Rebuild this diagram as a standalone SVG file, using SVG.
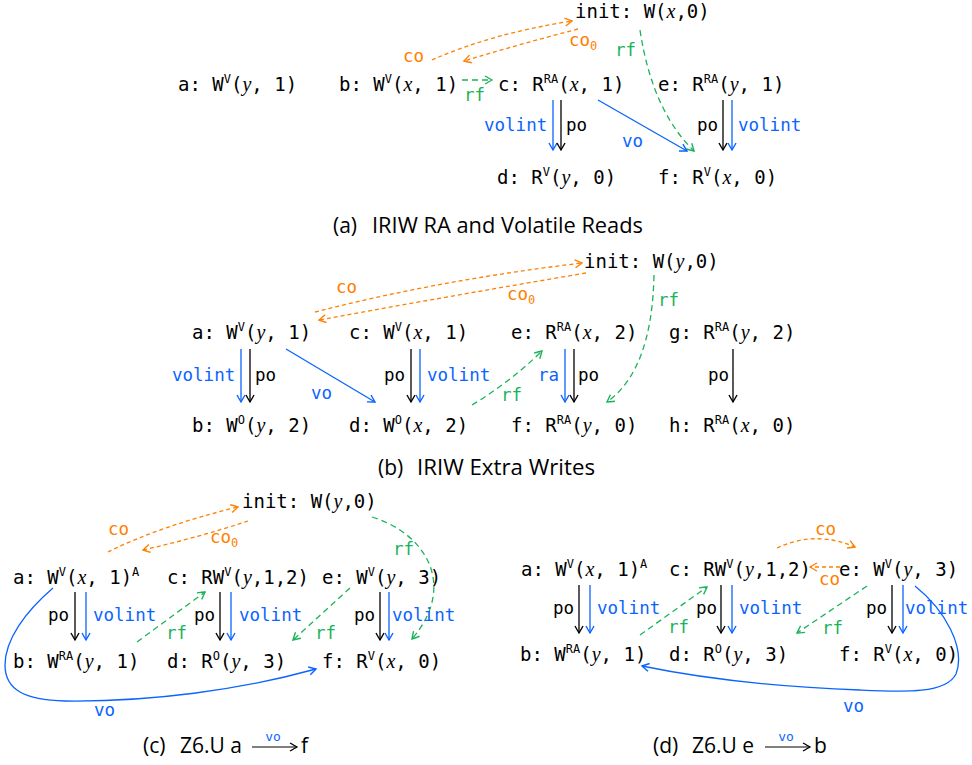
<svg xmlns="http://www.w3.org/2000/svg" width="972" height="765" viewBox="0 0 972 765">
<defs>
<style>
.n{font-family:"DejaVu Sans Mono",monospace;font-size:19px;fill:#000}
.m{font-family:"Liberation Serif",serif;font-style:italic;font-size:20px}
.sp{font-size:12px}
.l{font-family:"DejaVu Sans Mono",monospace;font-size:17.5px}
.cap{font-family:"Open Sans",sans-serif;font-size:21px;fill:#000}
.lb{fill:#0a64ff}.lk{fill:#000}.lg{fill:#1bb35a}.lo{fill:#ff8000}
.e{fill:none;stroke-width:1.3}
.k{stroke:#000;marker-end:url(#ak)}
.b{stroke:#0a64ff;marker-end:url(#ab)}
.g{stroke:#1bb35a;stroke-dasharray:6 4;marker-end:url(#ag)}
.o{stroke:#ff8000;stroke-dasharray:4 3;marker-end:url(#ao)}
</style>
<marker id="ak" markerUnits="userSpaceOnUse" markerWidth="14" markerHeight="14" refX="0" refY="0" viewBox="-10 -7 14 14" orient="auto"><path d="M-7,-4 Q-2,-1.2 0,0 Q-2,1.2 -7,4" fill="none" stroke="#000" stroke-width="1.4"/></marker>
<marker id="ab" markerUnits="userSpaceOnUse" markerWidth="14" markerHeight="14" refX="0" refY="0" viewBox="-10 -7 14 14" orient="auto"><path d="M-7,-4 Q-2,-1.2 0,0 Q-2,1.2 -7,4" fill="none" stroke="#0a64ff" stroke-width="1.4"/></marker>
<marker id="ag" markerUnits="userSpaceOnUse" markerWidth="14" markerHeight="14" refX="0" refY="0" viewBox="-10 -7 14 14" orient="auto"><path d="M-7,-4 Q-2,-1.2 0,0 Q-2,1.2 -7,4" fill="none" stroke="#1bb35a" stroke-width="1.4"/></marker>
<marker id="ao" markerUnits="userSpaceOnUse" markerWidth="14" markerHeight="14" refX="0" refY="0" viewBox="-10 -7 14 14" orient="auto"><path d="M-7,-4 Q-2,-1.2 0,0 Q-2,1.2 -7,4" fill="none" stroke="#ff8000" stroke-width="1.4"/></marker>
</defs>
<rect width="972" height="765" fill="#fff"/>

<!-- Panel (a) -->
<g id="a-init"><text class="n" x="575" y="18">init: W(<tspan class="m">x</tspan>,0)</text></g>
<g id="a-a"><text class="n" x="178" y="91">a: W<tspan class="sp" dy="-8">V</tspan><tspan dy="8">(</tspan><tspan class="m">y</tspan>, 1)</text></g>
<g id="a-b"><text class="n" x="339" y="91">b: W<tspan class="sp" dy="-8">V</tspan><tspan dy="8">(</tspan><tspan class="m">x</tspan>, 1)</text></g>
<g id="a-c"><text class="n" x="498" y="91">c: R<tspan class="sp" dy="-8">RA</tspan><tspan dy="8">(</tspan><tspan class="m">x</tspan>, 1)</text></g>
<g id="a-e"><text class="n" x="658" y="91">e: R<tspan class="sp" dy="-8">RA</tspan><tspan dy="8">(</tspan><tspan class="m">y</tspan>, 1)</text></g>
<g id="a-d"><text class="n" x="497" y="184">d: R<tspan class="sp" dy="-8">V</tspan><tspan dy="8">(</tspan><tspan class="m">y</tspan>, 0)</text></g>
<g id="a-f"><text class="n" x="658" y="184">f: R<tspan class="sp" dy="-8">V</tspan><tspan dy="8">(</tspan><tspan class="m">x</tspan>, 0)</text></g>
<g id="a-edges">
<path class="e o" d="M432,60 Q490,34 572,21"/>
<path class="e o" d="M578,29 Q520,44 464,61"/>
<path class="e g" d="M462,80 L492,80"/>
<path class="e g" d="M640,30 Q652,110 694,151"/>
<path class="e b" d="M553,100 L553,150"/>
<path class="e k" d="M561,100 L561,150"/>
<path class="e b" d="M598,100 L687,151"/>
<path class="e k" d="M723,100 L723,150"/>
<path class="e b" d="M732,100 L732,150"/>
<text class="l lo" x="403" y="62">co</text>
<text class="l lo" x="569" y="46">co<tspan class="sp" dy="4">0</tspan></text>
<text class="l lg" x="464" y="101">rf</text>
<text class="l lg" x="615" y="56">rf</text>
<text class="l lb" x="484" y="131">volint</text>
<text class="l lk" x="566" y="131">po</text>
<text class="l lb" x="622" y="147">vo</text>
<text class="l lk" x="697" y="131">po</text>
<text class="l lb" x="738" y="131">volint</text>
</g>
<g id="a-caption">
<text class="cap" x="333" y="233">(a)</text>
<text class="cap" x="372" y="233" textLength="271" lengthAdjust="spacingAndGlyphs">IRIW RA and Volatile Reads</text>
</g>

<!-- Panel (b) -->
<g id="b-init"><text class="n" x="584" y="268">init: W(<tspan class="m">y</tspan>,0)</text></g>
<g id="b-a"><text class="n" x="192" y="339">a: W<tspan class="sp" dy="-8">V</tspan><tspan dy="8">(</tspan><tspan class="m">y</tspan>, 1)</text></g>
<g id="b-c"><text class="n" x="349" y="339">c: W<tspan class="sp" dy="-8">V</tspan><tspan dy="8">(</tspan><tspan class="m">x</tspan>, 1)</text></g>
<g id="b-e"><text class="n" x="511" y="339">e: R<tspan class="sp" dy="-8">RA</tspan><tspan dy="8">(</tspan><tspan class="m">x</tspan>, 2)</text></g>
<g id="b-g"><text class="n" x="669" y="339">g: R<tspan class="sp" dy="-8">RA</tspan><tspan dy="8">(</tspan><tspan class="m">y</tspan>, 2)</text></g>
<g id="b-b"><text class="n" x="192" y="432">b: W<tspan class="sp" dy="-8">O</tspan><tspan dy="8">(</tspan><tspan class="m">y</tspan>, 2)</text></g>
<g id="b-d"><text class="n" x="349" y="432">d: W<tspan class="sp" dy="-8">O</tspan><tspan dy="8">(</tspan><tspan class="m">x</tspan>, 2)</text></g>
<g id="b-f"><text class="n" x="511" y="432">f: R<tspan class="sp" dy="-8">RA</tspan><tspan dy="8">(</tspan><tspan class="m">y</tspan>, 0)</text></g>
<g id="b-h"><text class="n" x="669" y="432">h: R<tspan class="sp" dy="-8">RA</tspan><tspan dy="8">(</tspan><tspan class="m">x</tspan>, 0)</text></g>
<g id="b-edges">
<path class="e o" d="M315,312 Q440,280 582,263"/>
<path class="e o" d="M586,273 Q450,296 319,320"/>
<path class="e b" d="M241,349 L241,402"/>
<path class="e k" d="M250,349 L250,402"/>
<path class="e b" d="M286,349 L375,402"/>
<path class="e k" d="M411,349 L411,402"/>
<path class="e b" d="M420,349 L420,402"/>
<path class="e g" d="M472,405 Q510,382 542,351"/>
<path class="e b" d="M565,349 L565,402"/>
<path class="e k" d="M574,349 L574,402"/>
<path class="e g" d="M654,275 Q652,370 607,402"/>
<path class="e k" d="M733,349 L733,402"/>
<text class="l lo" x="336" y="293">co</text>
<text class="l lo" x="507" y="300">co<tspan class="sp" dy="4">0</tspan></text>
<text class="l lb" x="172" y="381">volint</text>
<text class="l lk" x="255" y="381">po</text>
<text class="l lb" x="311" y="399">vo</text>
<text class="l lk" x="384" y="381">po</text>
<text class="l lb" x="427" y="381">volint</text>
<text class="l lg" x="501" y="401">rf</text>
<text class="l lb" x="538" y="381">ra</text>
<text class="l lk" x="578" y="381">po</text>
<text class="l lg" x="658" y="306">rf</text>
<text class="l lk" x="708" y="381">po</text>
</g>
<g id="b-caption">
<text class="cap" x="378" y="475">(b)</text>
<text class="cap" x="417" y="475" textLength="178" lengthAdjust="spacingAndGlyphs">IRIW Extra Writes</text>
</g>

<!-- Panel (c) -->
<g id="c-init"><text class="n" x="242" y="508">init: W(<tspan class="m">y</tspan>,0)</text></g>
<g id="c-a"><text class="n" x="13" y="584">a: W<tspan class="sp" dy="-8">V</tspan><tspan dy="8">(</tspan><tspan class="m">x</tspan>, 1)<tspan class="sp" dy="-8">A</tspan></text></g>
<g id="c-c"><text class="n" x="167" y="584">c: RW<tspan class="sp" dy="-8">V</tspan><tspan dy="8">(</tspan><tspan class="m">y</tspan>,1,2)</text></g>
<g id="c-e"><text class="n" x="322" y="584">e: W<tspan class="sp" dy="-8">V</tspan><tspan dy="8">(</tspan><tspan class="m">y</tspan>, 3)</text></g>
<g id="c-b"><text class="n" x="13" y="668">b: W<tspan class="sp" dy="-8">RA</tspan><tspan dy="8">(</tspan><tspan class="m">y</tspan>, 1)</text></g>
<g id="c-d"><text class="n" x="167" y="668">d: R<tspan class="sp" dy="-8">O</tspan><tspan dy="8">(</tspan><tspan class="m">y</tspan>, 3)</text></g>
<g id="c-f"><text class="n" x="322" y="668">f: R<tspan class="sp" dy="-8">V</tspan><tspan dy="8">(</tspan><tspan class="m">x</tspan>, 0)</text></g>
<g id="c-edges">
<path class="e o" d="M108,552 Q160,526 238,507"/>
<path class="e o" d="M248,521 Q200,537 143,550"/>
<path class="e g" d="M372,517 C425,533 458,585 412,639"/>
<path class="e k" d="M75,592 L75,640"/>
<path class="e b" d="M86,592 L86,640"/>
<path class="e k" d="M220,592 L220,640"/>
<path class="e b" d="M231,592 L231,640"/>
<path class="e k" d="M380,592 L380,640"/>
<path class="e b" d="M389,592 L389,640"/>
<path class="e g" d="M137,642 L205,592"/>
<path class="e g" d="M350,588 L293,640"/>
<path class="e b" d="M53,588 C25,612 5,640 5,665 C5,690 25,700 65,701 C150,702 240,690 316,669"/>
<text class="l lo" x="108" y="535">co</text>
<text class="l lo" x="210" y="543">co<tspan class="sp" dy="4">0</tspan></text>
<text class="l lg" x="393" y="555">rf</text>
<text class="l lk" x="48" y="621">po</text>
<text class="l lb" x="93" y="621">volint</text>
<text class="l lk" x="194" y="621">po</text>
<text class="l lb" x="239" y="621">volint</text>
<text class="l lk" x="354" y="621">po</text>
<text class="l lb" x="392" y="621">volint</text>
<text class="l lg" x="166" y="639">rf</text>
<text class="l lg" x="315" y="639">rf</text>
<text class="l lb" x="94" y="716">vo</text>
</g>
<g id="c-caption">
<text class="cap" x="143" y="753">(c)</text>
<text class="cap" x="180" y="753" xml:space="preserve">Z6.U a</text>
<path d="M252,747 L297,747" fill="none" stroke="#000" stroke-width="1" marker-end="url(#ak)"/>
<text class="l lb" x="273" y="741" text-anchor="middle" style="font-size:13px">vo</text>
<text class="cap" x="301" y="753">f</text>
</g>

<!-- Panel (d) -->
<g id="d-a"><text class="n" x="521" y="576">a: W<tspan class="sp" dy="-8">V</tspan><tspan dy="8">(</tspan><tspan class="m">x</tspan>, 1)<tspan class="sp" dy="-8">A</tspan></text></g>
<g id="d-c"><text class="n" x="669" y="576">c: RW<tspan class="sp" dy="-8">V</tspan><tspan dy="8">(</tspan><tspan class="m">y</tspan>,1,2)</text></g>
<g id="d-e"><text class="n" x="839" y="576">e: W<tspan class="sp" dy="-8">V</tspan><tspan dy="8">(</tspan><tspan class="m">y</tspan>, 3)</text></g>
<g id="d-b"><text class="n" x="520" y="661">b: W<tspan class="sp" dy="-8">RA</tspan><tspan dy="8">(</tspan><tspan class="m">y</tspan>, 1)</text></g>
<g id="d-d"><text class="n" x="669" y="661">d: R<tspan class="sp" dy="-8">O</tspan><tspan dy="8">(</tspan><tspan class="m">y</tspan>, 3)</text></g>
<g id="d-f"><text class="n" x="839" y="661">f: R<tspan class="sp" dy="-8">V</tspan><tspan dy="8">(</tspan><tspan class="m">x</tspan>, 0)</text></g>
<g id="d-edges">
<path class="e o" d="M777,548 Q815,530 855,547"/>
<path class="e o" d="M840,567 L810,567"/>
<path class="e k" d="M579,585 L579,633"/>
<path class="e b" d="M590,585 L590,633"/>
<path class="e k" d="M721,585 L721,633"/>
<path class="e b" d="M732,585 L732,633"/>
<path class="e k" d="M892,585 L892,633"/>
<path class="e b" d="M903,585 L903,633"/>
<path class="e g" d="M640,635 L707,587"/>
<path class="e g" d="M867,586 L797,633"/>
<path class="e b" d="M915,586 C945,610 966,648 956,674 C946,694 905,692 860,690 C780,687 700,678 642,666"/>
<text class="l lo" x="815" y="535">co</text>
<text class="l lo" x="819" y="585">co</text>
<text class="l lk" x="553" y="614">po</text>
<text class="l lb" x="597" y="614">volint</text>
<text class="l lk" x="696" y="614">po</text>
<text class="l lb" x="739" y="614">volint</text>
<text class="l lk" x="866" y="614">po</text>
<text class="l lb" x="905" y="614">volint</text>
<text class="l lg" x="668" y="633">rf</text>
<text class="l lg" x="822" y="634">rf</text>
<text class="l lb" x="843" y="712">vo</text>
</g>
<g id="d-caption">
<text class="cap" x="653" y="753">(d)</text>
<text class="cap" x="692" y="753" xml:space="preserve">Z6.U e</text>
<path d="M765,747 L810,747" fill="none" stroke="#000" stroke-width="1" marker-end="url(#ak)"/>
<text class="l lb" x="786" y="741" text-anchor="middle" style="font-size:13px">vo</text>
<text class="cap" x="814" y="753">b</text>
</g>
</svg>
